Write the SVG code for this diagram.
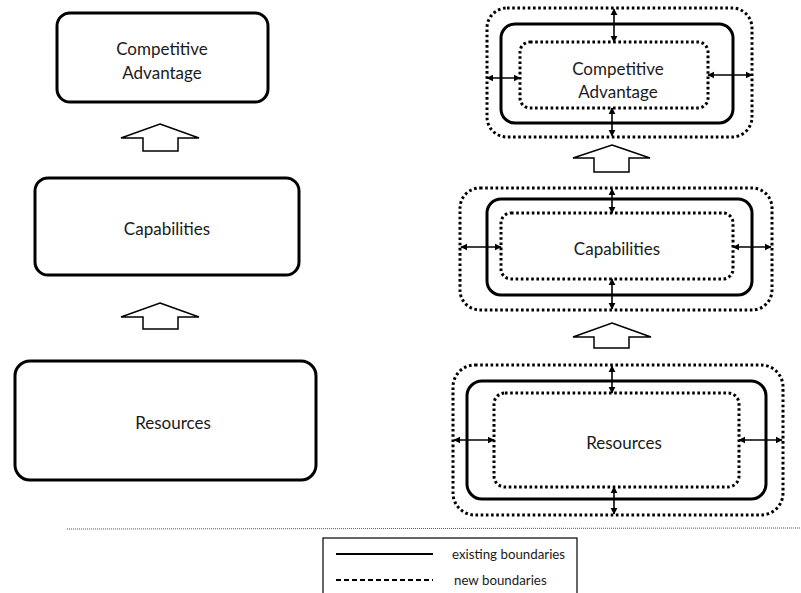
<svg xmlns="http://www.w3.org/2000/svg" width="801" height="593" viewBox="0 0 801 593">
<defs>
<style>
.box{fill:#fff;stroke:#000;stroke-width:3}
.sol{fill:none;stroke:#000;stroke-width:3}
.dot{fill:none;stroke:#000;stroke-width:3;stroke-dasharray:2.6 2.6}
.up{fill:#fff;stroke:#000;stroke-width:1.5;stroke-linejoin:miter}
.dbl{stroke:#000;stroke-width:1.6;marker-start:url(#ah);marker-end:url(#ah)}
.t{font-family:Lato,"Open Sans","Liberation Sans",sans-serif;font-size:17px;fill:#1a1a1a;text-anchor:middle;dominant-baseline:central}
.lg{font-family:Lato,"Open Sans","Liberation Sans",sans-serif;font-size:13.3px;fill:#1a1a1a;dominant-baseline:central}
</style>
<marker id="ah" viewBox="0 0 10 10" refX="9" refY="5" markerWidth="4.5" markerHeight="4.5" orient="auto-start-reverse" markerUnits="strokeWidth">
<path d="M0,0 L10,5 L0,10 z" fill="#000"/>
</marker>
</defs>
<rect width="801" height="593" fill="#fff"/>

<!-- Left column -->
<g id="left-ca">
<rect class="box" x="57" y="13" width="211" height="89" rx="13"/>
<text class="t" x="162" y="48">Competitive</text>
<text class="t" x="162" y="72">Advantage</text>
</g>
<g id="left-cap">
<rect class="box" x="35" y="178" width="264" height="97" rx="13"/>
<text class="t" x="167" y="228">Capabilities</text>
</g>
<g id="left-res">
<rect class="box" x="15" y="361" width="301" height="119" rx="15"/>
<text class="t" x="173" y="422">Resources</text>
</g>

<!-- Right column -->
<g id="right-ca">
<rect class="dot" x="487" y="8" width="265" height="129" rx="20"/>
<rect class="sol" x="501" y="24" width="232" height="99" rx="14"/>
<rect class="dot" x="520" y="42" width="188" height="66" rx="10"/>
<text class="t" x="618" y="68">Competitive</text>
<text class="t" x="618" y="91">Advantage</text>
</g>
<g id="right-cap">
<rect class="dot" x="460" y="188" width="312" height="122" rx="20"/>
<rect class="sol" x="487" y="199" width="265" height="96" rx="14"/>
<rect class="dot" x="501" y="213" width="232" height="66" rx="10"/>
<text class="t" x="617" y="248">Capabilities</text>
</g>
<g id="right-res">
<rect class="dot" x="453" y="365" width="330" height="150" rx="22"/>
<rect class="sol" x="467" y="381" width="299" height="118" rx="15"/>
<rect class="dot" x="494" y="393" width="245" height="94" rx="11"/>
<text class="t" x="624" y="442">Resources</text>
</g>

<!-- Connectors -->
<g id="connectors">
<polygon class="up" points="160,124 199,138 178,138 178,151 143,151 143,138 121,138"/>
<polygon class="up" points="160,303 199,317 178,317 178,329 143,329 143,317 121,317"/>
<polygon class="up" points="612,145 650,158 629,158 629,172 594,172 594,158 573,158"/>
<polygon class="up" points="612,323 651,337 629,337 629,348 594,348 594,337 573,337"/>

<line class="dbl" x1="614" y1="9" x2="614" y2="42"/>
<line class="dbl" x1="612" y1="108" x2="612" y2="136"/>
<line class="dbl" x1="487" y1="78" x2="520" y2="78"/>
<line class="dbl" x1="708" y1="75" x2="752" y2="75"/>

<line class="dbl" x1="612" y1="189" x2="612" y2="213"/>
<line class="dbl" x1="612" y1="279" x2="612" y2="309"/>
<line class="dbl" x1="461" y1="247" x2="501" y2="247"/>
<line class="dbl" x1="733" y1="247" x2="771" y2="247"/>

<line class="dbl" x1="612" y1="366" x2="612" y2="393"/>
<line class="dbl" x1="614" y1="487" x2="614" y2="514"/>
<line class="dbl" x1="454" y1="440" x2="494" y2="440"/>
<line class="dbl" x1="739" y1="440" x2="782" y2="440"/>
</g>

<!-- Separator -->
<line x1="67" y1="529" x2="801" y2="528" stroke="#555" stroke-width="1" stroke-dasharray="1 1"/>

<!-- Legend -->
<g id="legend">
<rect x="323" y="538" width="254" height="60" fill="#fff" stroke="#000" stroke-width="1.2"/>
<line x1="336" y1="554" x2="433" y2="554" stroke="#000" stroke-width="2.2"/>
<line x1="336" y1="580" x2="433" y2="580" stroke="#000" stroke-width="2.2" stroke-dasharray="5 3"/>
<text class="lg" x="452" y="554">existing boundaries</text>
<text class="lg" x="454" y="580">new boundaries</text>
</g>
</svg>
